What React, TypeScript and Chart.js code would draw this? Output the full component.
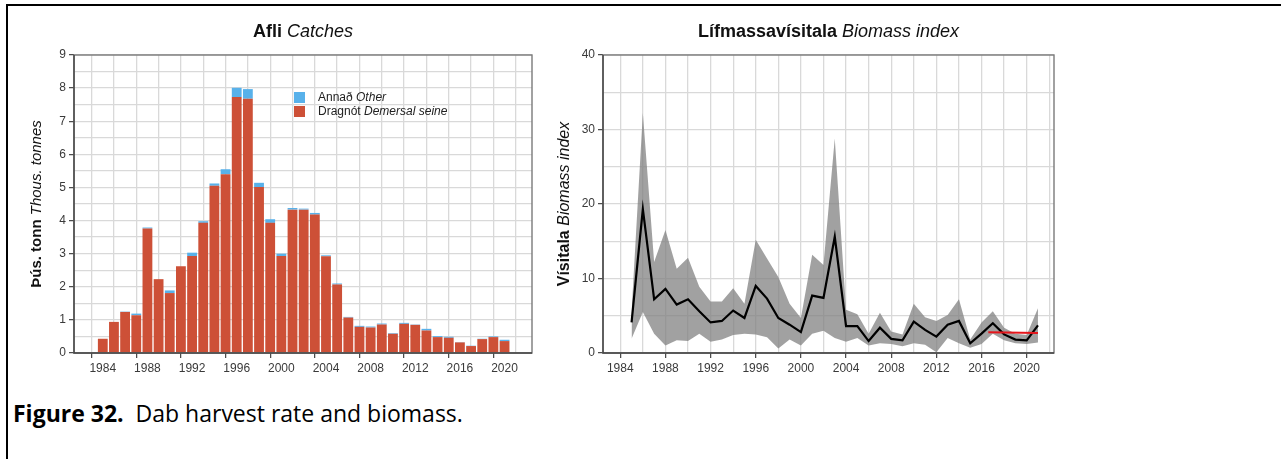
import React, { useEffect, useRef } from "react";
import { Chart, registerables } from "chart.js";

Chart.register(...registerables);

// ---- Catches (thousand tonnes) ----
const catchYears = [
  1984, 1985, 1986, 1987, 1988, 1989, 1990, 1991, 1992, 1993, 1994, 1995, 1996,
  1997, 1998, 1999, 2000, 2001, 2002, 2003, 2004, 2005, 2006, 2007, 2008, 2009,
  2010, 2011, 2012, 2013, 2014, 2015, 2016, 2017, 2018, 2019, 2020,
];
const demersalSeine = [
  0.43, 0.94, 1.24, 1.14, 3.76, 2.23, 1.81, 2.62, 2.93, 3.93, 5.05, 5.4, 7.73,
  7.68, 5.01, 3.93, 2.93, 4.33, 4.33, 4.18, 2.92, 2.07, 1.07, 0.79, 0.77, 0.86,
  0.58, 0.88, 0.85, 0.68, 0.48, 0.46, 0.32, 0.21, 0.42, 0.48, 0.36,
];
const otherGear = [
  0.0, 0.0, 0.01, 0.05, 0.03, 0.0, 0.08, 0.0, 0.1, 0.05, 0.07, 0.15, 0.28,
  0.29, 0.13, 0.11, 0.07, 0.05, 0.03, 0.05, 0.03, 0.03, 0.02, 0.03, 0.03, 0.03,
  0.02, 0.03, 0.01, 0.05, 0.03, 0.03, 0.01, 0.01, 0.01, 0.02, 0.04,
];

// ---- Survey biomass index with confidence band ----
const biomassYears = [
  1985, 1986, 1987, 1988, 1989, 1990, 1991, 1992, 1993, 1994, 1995, 1996, 1997,
  1998, 1999, 2000, 2001, 2002, 2003, 2004, 2005, 2006, 2007, 2008, 2009, 2010,
  2011, 2012, 2013, 2014, 2015, 2016, 2017, 2018, 2019, 2020, 2021,
];
const biomassIndex = [
  4.1, 19.3, 7.2, 8.6, 6.5, 7.2, 5.6, 4.1, 4.3, 5.7, 4.7, 9.0, 7.3, 4.7, 3.8,
  2.8, 7.7, 7.4, 15.6, 3.6, 3.6, 1.6, 3.4, 1.9, 1.7, 4.2, 3.1, 2.2, 3.8, 4.3,
  1.3, 2.6, 4.0, 2.5, 1.8, 1.7, 3.7,
];
const biomassUpper = [
  5.5, 32.2, 12.2, 16.5, 11.3, 12.8, 8.9, 6.9, 6.9, 8.7, 6.6, 15.2, 12.7, 10.2,
  6.6, 4.7, 13.2, 11.8, 28.8, 5.8, 5.2, 2.6, 5.4, 2.9, 2.5, 6.6, 4.8, 4.3, 5.1,
  7.2, 1.8, 4.1, 5.6, 3.4, 2.6, 2.4, 6.0,
];
const biomassLower = [
  1.9, 5.5, 2.6, 1.0, 1.7, 1.6, 2.6, 1.5, 1.8, 2.4, 2.6, 2.5, 2.1, 0.6, 1.8,
  1.0, 2.6, 3.0, 2.0, 1.5, 2.0, 1.0, 1.3, 1.2, 0.9, 1.3, 1.1, 0.1, 2.0, 1.3,
  0.7, 1.2, 2.6, 1.7, 1.3, 1.2, 1.4,
];
const referenceYears = [2016.6, 2021];
const referenceLevel = [2.8, 2.7];

// ---- Axis ticks ----
const catchGridYears = [
  1984, 1986, 1988, 1990, 1992, 1994, 1996, 1998, 2000, 2002, 2004, 2006, 2008,
  2010, 2012, 2014, 2016, 2018, 2020,
];
const biomassGridYears = [...catchGridYears, 2022];
const catchGridValues = [
  0, 0.5, 1, 1.5, 2, 2.5, 3, 3.5, 4, 4.5, 5, 5.5, 6, 6.5, 7, 7.5, 8, 8.5, 9,
];
const biomassGridValues = [0, 5, 10, 15, 20, 25, 30, 35, 40];

const FAMILY = "'Liberation Sans', Arial, sans-serif";
const RED = "#cd5037";
const BLUE = "#58b1ea";
const GRID = "#d9d9d9";
const AXIS = "#444444";
const TICK_TEXT = "#3a3a3a";

type Part = { text: string; bold?: boolean; italic?: boolean };

function fontFor(p: Part, size: number) {
  return `${p.italic ? "italic " : ""}${p.bold ? "bold " : ""}${size}px ${FAMILY}`;
}

function measureParts(ctx: CanvasRenderingContext2D, parts: Part[], size: number) {
  let w = 0;
  for (const p of parts) {
    ctx.font = fontFor(p, size);
    w += ctx.measureText(p.text).width;
  }
  return w;
}

function drawParts(
  ctx: CanvasRenderingContext2D,
  parts: Part[],
  x: number,
  y: number,
  size: number,
  color: string,
  align: "center" | "left"
) {
  const total = measureParts(ctx, parts, size);
  let cx = align === "center" ? x - total / 2 : x;
  ctx.textBaseline = "middle";
  ctx.textAlign = "left";
  ctx.fillStyle = color;
  for (const p of parts) {
    ctx.font = fontFor(p, size);
    ctx.fillText(p.text, cx, y);
    cx += ctx.measureText(p.text).width;
  }
}

// Title, rotated y-axis title and the box around the plot area
function decorPlugin(
  id: string,
  title: Part[],
  yTitle: Part[],
  yTitleX: number,
  yTitleSize: number,
  extra?: (chart: any) => void
) {
  return {
    id,
    afterDraw(chart: any) {
      const { ctx, chartArea } = chart;
      ctx.save();
      ctx.strokeStyle = "#7a7a7a";
      ctx.lineWidth = 1.4;
      ctx.strokeRect(chartArea.left, chartArea.top, chartArea.right - chartArea.left, chartArea.bottom - chartArea.top);
      ctx.strokeStyle = AXIS;
      ctx.beginPath();
      ctx.moveTo(chartArea.left, chartArea.top);
      ctx.lineTo(chartArea.left, chartArea.bottom);
      ctx.lineTo(chartArea.right, chartArea.bottom);
      ctx.stroke();
      drawParts(ctx, title, (chartArea.left + chartArea.right) / 2, 32, 18, "#111", "center");
      ctx.translate(yTitleX, (chartArea.top + chartArea.bottom) / 2);
      ctx.rotate(-Math.PI / 2);
      drawParts(ctx, yTitle, 0, 0, yTitleSize, "#111", "center");
      ctx.restore();
      if (extra) extra(chart);
    },
  };
}

function catchLegend(chart: any) {
  const { ctx, chartArea } = chart;
  const x = chartArea.left + 220;
  const y = chartArea.top + 37;
  ctx.save();
  ctx.fillStyle = BLUE;
  ctx.fillRect(x, y, 11, 11);
  ctx.fillStyle = RED;
  ctx.fillRect(x, y + 14, 11, 11);
  drawParts(ctx, [{ text: "Annað " }, { text: "Other", italic: true }], x + 24, y + 5.5, 12, "#222", "left");
  drawParts(ctx, [{ text: "Dragnót " }, { text: "Demersal seine", italic: true }], x + 24, y + 19.5, 12, "#222", "left");
  ctx.restore();
}

function xScale(min: number, max: number, gridYears: number[]) {
  return {
    type: "linear" as const,
    min,
    max,
    stacked: true,
    afterBuildTicks: (s: any) => {
      s.ticks = gridYears.map((v) => ({ value: v }));
    },
    afterFit: (s: any) => {
      s.height = 32;
    },
    ticks: {
      autoSkip: false,
      maxRotation: 0,
      padding: 3,
      color: TICK_TEXT,
      font: { family: FAMILY, size: 12 },
      callback: (v: any) => (Number(v) % 4 === 0 ? String(v) : ""),
    },
    grid: {
      color: GRID,
      lineWidth: 1.3,
      tickLength: 5,
      tickWidth: 1.2,
      tickColor: (c: any) => (c.tick && c.tick.value % 4 === 0 ? AXIS : "rgba(0,0,0,0)"),
    },
    border: { display: false },
  };
}

function yScale(max: number, gridValues: number[], labelStep: number, width: number) {
  return {
    min: 0,
    max,
    stacked: true,
    afterBuildTicks: (s: any) => {
      s.ticks = gridValues.map((v) => ({ value: v }));
    },
    afterFit: (s: any) => {
      s.width = width;
    },
    ticks: {
      autoSkip: false,
      padding: 3,
      color: TICK_TEXT,
      font: { family: FAMILY, size: 12 },
      callback: (v: any) => (Number(v) % labelStep === 0 ? String(v) : ""),
    },
    grid: {
      color: GRID,
      lineWidth: 1.3,
      tickLength: 5,
      tickWidth: 1.2,
      tickColor: (c: any) => (c.tick && c.tick.value % labelStep === 0 ? AXIS : "rgba(0,0,0,0)"),
    },
    border: { display: false },
  };
}

function CatchChart() {
  const ref = useRef<HTMLCanvasElement>(null);
  useEffect(() => {
    if (!ref.current) return;
    const chart = new Chart(ref.current, {
      type: "bar",
      data: {
        datasets: [
          {
            label: "Dragnót Demersal seine",
            data: catchYears.map((y, i) => ({ x: y, y: demersalSeine[i] })),
            backgroundColor: RED,
            borderWidth: 0,
            barPercentage: 0.88,
            categoryPercentage: 1,
          },
          {
            label: "Annað Other",
            data: catchYears.map((y, i) => ({ x: y, y: otherGear[i] })),
            backgroundColor: BLUE,
            borderWidth: 0,
            barPercentage: 0.88,
            categoryPercentage: 1,
          },
        ],
      } as any,
      options: {
        animation: false,
        responsive: false,
        devicePixelRatio: 1,
        layout: { padding: { top: 55, right: 13, left: 0, bottom: 0 } },
        plugins: { legend: { display: false }, tooltip: { enabled: false }, title: { display: false } },
        scales: {
          x: xScale(1982.5, 2021.38, catchGridYears),
          y: yScale(9, catchGridValues, 1, 74),
        },
      } as any,
      plugins: [
        decorPlugin(
          "catchDecor",
          [{ text: "Afli", bold: true }, { text: " Catches", italic: true }],
          [{ text: "Þús. tonn", bold: true }, { text: " Thous. tonnes", italic: true }],
          37,
          15,
          catchLegend
        ),
      ],
    });
    return () => chart.destroy();
  }, []);
  return (
    <canvas
      ref={ref}
      width={545}
      height={385}
      style={{ position: "absolute", left: 0, top: 0, width: 545, height: 385 }}
    />
  );
}

function BiomassChart() {
  const ref = useRef<HTMLCanvasElement>(null);
  useEffect(() => {
    if (!ref.current) return;
    const pts = (vals: number[]) => biomassYears.map((y, i) => ({ x: y, y: vals[i] }));
    const chart = new Chart(ref.current, {
      type: "line",
      data: {
        datasets: [
          {
            label: "lower",
            data: pts(biomassLower),
            borderWidth: 0,
            pointRadius: 0,
            fill: false,
            tension: 0,
            order: 3,
          },
          {
            label: "upper",
            data: pts(biomassUpper),
            borderWidth: 0,
            pointRadius: 0,
            fill: "-1",
            backgroundColor: "rgba(125,125,125,0.72)",
            tension: 0,
            order: 2,
          },
          {
            label: "Vísitala",
            data: pts(biomassIndex),
            borderColor: "#000",
            borderWidth: 2.2,
            pointRadius: 0,
            fill: false,
            tension: 0,
            order: 1,
          },
          {
            label: "reference",
            data: referenceYears.map((y, i) => ({ x: y, y: referenceLevel[i] })),
            borderColor: "#e6151b",
            borderWidth: 2,
            pointRadius: 0,
            fill: false,
            tension: 0,
            order: 0,
          },
        ],
      } as any,
      options: {
        animation: false,
        responsive: false,
        devicePixelRatio: 1,
        layout: { padding: { top: 55, right: 21, left: 0, bottom: 0 } },
        plugins: { legend: { display: false }, tooltip: { enabled: false }, title: { display: false } },
        scales: {
          x: { ...xScale(1982.47, 2022.42, biomassGridYears), stacked: false },
          y: { ...yScale(40, biomassGridValues, 10, 58), stacked: false },
        },
      } as any,
      plugins: [
        decorPlugin(
          "biomassDecor",
          [{ text: "Lífmassavísitala", bold: true }, { text: " Biomass index", italic: true }],
          [{ text: "Vísitala", bold: true }, { text: " Biomass index", italic: true }],
          20,
          16
        ),
      ],
    });
    return () => chart.destroy();
  }, []);
  return (
    <canvas
      ref={ref}
      width={530}
      height={385}
      style={{ position: "absolute", left: 545, top: 0, width: 530, height: 385 }}
    />
  );
}

export default function App() {
  return (
    <div
      style={{
        position: "fixed",
        left: 0,
        top: 0,
        width: 1281,
        height: 459,
        background: "#fff",
        overflow: "hidden",
      }}
    >
      <div
        style={{
          position: "absolute",
          left: 6,
          top: 4,
          right: 0,
          bottom: 0,
          borderTop: "2px solid #000",
          borderLeft: "2px solid #000",
        }}
      />
      <CatchChart />
      <BiomassChart />
      <div
        style={{
          position: "absolute",
          left: 13,
          top: 396,
          fontFamily: "'Open Sans', 'Noto Sans', sans-serif",
          fontSize: 23,
          lineHeight: "34px",
          color: "#000",
          whiteSpace: "pre",
        }}
      >
        <b>Figure 32.</b>
        {"  Dab harvest rate and biomass."}
      </div>
    </div>
  );
}
